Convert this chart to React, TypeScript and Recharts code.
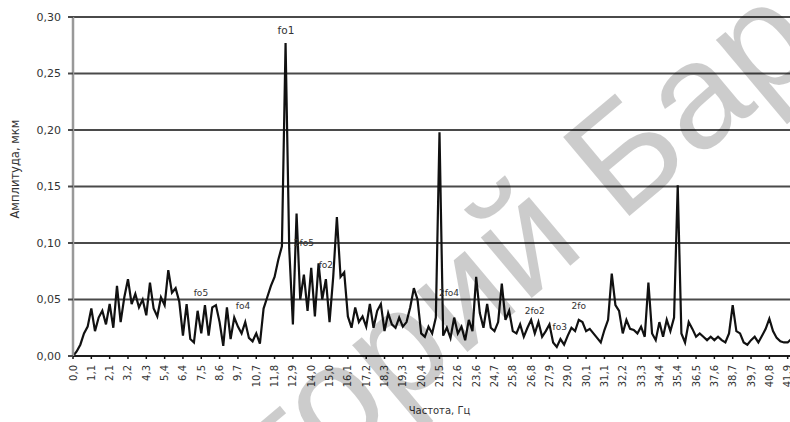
import { LineChart, Line, XAxis, YAxis, CartesianGrid, ReferenceDot } from "recharts";

// tick labels every 5 spectral lines (Hz)
const tickLabels = [
  "0,0", "1,1", "2,1", "3,2", "4,3", "5,4", "6,4", "7,5", "8,6", "9,7",
  "10,7", "11,8", "12,9", "14,0", "15,0", "16,1", "17,2", "18,3", "19,3", "20,4",
  "21,5", "22,6", "23,6", "24,7", "25,8", "26,8", "27,9", "29,0", "30,1", "31,1",
  "32,2", "33,3", "34,4", "35,4", "36,5", "37,6", "38,7", "39,7", "40,8", "41,9", "43,0",
];

const yTicks = [0, 0.05, 0.1, 0.15, 0.2, 0.25, 0.3];

// amplitude per spectral line, mkm
const amplitude = [
  0.000, 0.004, 0.010, 0.020, 0.026, 0.042, 0.022, 0.034, 0.040, 0.028,
  0.046, 0.025, 0.062, 0.030, 0.052, 0.068, 0.046, 0.055, 0.043, 0.050,
  0.036, 0.065, 0.042, 0.035, 0.052, 0.045, 0.076, 0.056, 0.060, 0.048,
  0.018, 0.046, 0.015, 0.012, 0.040, 0.020, 0.045, 0.018, 0.043, 0.045,
  0.030, 0.009, 0.043, 0.015, 0.034, 0.026, 0.020, 0.030, 0.016, 0.013,
  0.020, 0.011, 0.042, 0.052, 0.062, 0.070, 0.085, 0.097, 0.277, 0.095,
  0.028, 0.126, 0.050, 0.072, 0.040, 0.078, 0.035, 0.082, 0.050, 0.068,
  0.030, 0.070, 0.123, 0.070, 0.074, 0.035, 0.025, 0.043, 0.030, 0.035,
  0.026, 0.046, 0.025, 0.040, 0.046, 0.022, 0.038, 0.028, 0.025, 0.034,
  0.026, 0.030, 0.043, 0.060, 0.050, 0.020, 0.017, 0.026, 0.020, 0.034,
  0.198, 0.018, 0.025, 0.016, 0.034, 0.020, 0.026, 0.014, 0.032, 0.022,
  0.070, 0.038, 0.025, 0.046, 0.025, 0.022, 0.030, 0.064, 0.032, 0.040,
  0.022, 0.020, 0.028, 0.017, 0.025, 0.032, 0.020, 0.030, 0.017, 0.022,
  0.028, 0.012, 0.008, 0.015, 0.010, 0.018, 0.025, 0.022, 0.032, 0.030,
  0.022, 0.024, 0.020, 0.016, 0.012, 0.023, 0.032, 0.073, 0.045, 0.040,
  0.020, 0.032, 0.024, 0.023, 0.020, 0.026, 0.017, 0.065, 0.020, 0.014,
  0.030, 0.017, 0.032, 0.022, 0.034, 0.151, 0.020, 0.012, 0.030, 0.024,
  0.017, 0.020, 0.017, 0.014, 0.017, 0.014, 0.017, 0.014, 0.012, 0.020,
  0.045, 0.022, 0.020, 0.012, 0.010, 0.014, 0.017, 0.012, 0.018, 0.024,
  0.033, 0.022, 0.016, 0.013, 0.012, 0.012, 0.015, 0.013, 0.018, 0.012,
  0.016,
];

// peak annotations: label, line index, amplitude where the text sits
const noteNames = ["fo1", "2fo5", "fo2", "fo5", "fo4", "2fo4", "2fo2", "fo3", "2fo"];
const noteX = [58.1, 63.0, 69.0, 34.9, 46.4, 102.6, 126.0, 132.8, 138.0];
const noteY = [0.288, 0.100, 0.081, 0.056, 0.044, 0.056, 0.040, 0.026, 0.044];

const data = amplitude.map((a, i) => ({ i, a }));
const xTicks = tickLabels.map((_, k) => k * 5);

const font = "'DejaVu Sans', Verdana, sans-serif";

function XTick(props: any) {
  const { x, y, payload } = props;
  const label = tickLabels[Math.round(payload.value / 5)];
  return (
    <g transform={`translate(${x},${y})`}>
      <text transform="rotate(-90)" textAnchor="end" dy="0.35em" fontSize={10} fill="#333" fontFamily={font}>
        {label}
      </text>
    </g>
  );
}

export default function App() {
  return (
    <div style={{ position: "fixed", left: 0, top: 0, width: 790, height: 422, overflow: "hidden", background: "#fff" }}>
      <LineChart width={806} height={422} data={data} margin={{ top: 17, right: 0, bottom: 0, left: 0 }}>
        <CartesianGrid vertical={false} stroke="#4a4a4a" strokeWidth={2} />
        <XAxis
          dataKey="i"
          type="number"
          domain={[0, 200]}
          ticks={xTicks}
          interval={0}
          height={66}
          stroke="#111"
          strokeWidth={1.5}
          tickSize={3}
          tickMargin={6}
          tick={<XTick />}
          label={{ value: "Частота, Гц", position: "insideBottom", offset: 8, fontSize: 10, fill: "#333", fontFamily: font }}
        />
        <YAxis
          domain={[0, 0.3]}
          ticks={yTicks}
          width={73}
          stroke="#999"
          strokeWidth={2.5}
          tickLine={{ stroke: "#4a4a4a", strokeWidth: 2 }}
          tickSize={5}
          tickMargin={7}
          tick={{ fontSize: 11, fill: "#333", fontFamily: font }}
          tickFormatter={(v: number) => v.toFixed(2).replace(".", ",")}
          label={{
            content: () => (
              <text
                x={15}
                y={169}
                transform="rotate(-90, 15, 169)"
                textAnchor="middle"
                dominantBaseline="middle"
                fontSize={11.5}
                fill="#333"
                fontFamily={font}
              >
                Амплитуда, мкм
              </text>
            ),
          }}
        />
        <Line type="linear" dataKey="a" stroke="#111" strokeWidth={2.2} dot={false} isAnimationActive={false} />
        {noteNames.map((n, k) => (
          <ReferenceDot
            key={n}
            x={noteX[k]}
            y={noteY[k]}
            r={0}
            fill="none"
            stroke="none"
            label={{ value: n, position: "center", fontSize: n === "fo1" ? 10.5 : 9, fill: "#333", fontFamily: font }}
          />
        ))}
      </LineChart>
      <svg width={790} height={422} style={{ position: "absolute", left: 0, top: 0, pointerEvents: "none" }}>
        <g transform="translate(620,224) rotate(-40)" fill="#000" fillOpacity={0.2} fontFamily="'Liberation Sans', Arial, sans-serif" fontSize={150}>
          <text x={-42} y={0} textAnchor="end">Репозиторий</text>
          <text x={0} y={0}>БарГУ</text>
        </g>
      </svg>
    </div>
  );
}
